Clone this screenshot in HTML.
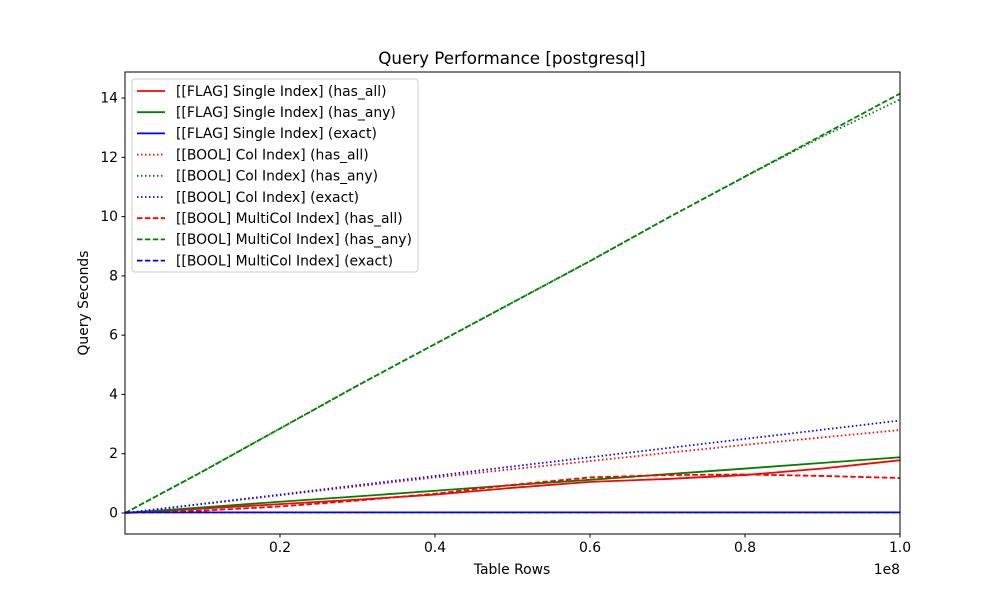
<!DOCTYPE html>
<html><head><meta charset="utf-8"><style>
body{margin:0;background:#fff;font-family:"DejaVu Sans","Liberation Sans",sans-serif}
svg text{font-family:"DejaVu Sans","Liberation Sans",sans-serif}
</style></head><body>
<svg id="chart" width="1000" height="600" xmlns="http://www.w3.org/2000/svg"></svg>
<script>
const xs=[0,0.1,0.2,0.3,0.4,0.5,0.6,0.7,0.8,0.9,1.0];
const flagAll=[0,0.15,0.3,0.45,0.62,0.85,1.05,1.15,1.28,1.5,1.78];
const flagAny=[0,0.19,0.38,0.56,0.75,0.94,1.12,1.31,1.5,1.69,1.88];
const flagExact=[0.02,0.02,0.02,0.02,0.02,0.02,0.02,0.02,0.02,0.02,0.02];
const colAll=[0,0.3,0.6,0.9,1.2,1.48,1.75,2.03,2.3,2.55,2.8];
const colAny=[0,1.4,2.85,4.3,5.7,7.1,8.5,9.95,11.35,12.7,13.95];
const colExact=[0,0.31,0.62,0.94,1.25,1.57,1.88,2.19,2.5,2.81,3.12];
const mcAll=[0,0.08,0.22,0.42,0.65,0.95,1.2,1.28,1.3,1.25,1.18];
const mcAny=[0,1.4,2.85,4.3,5.7,7.1,8.5,9.95,11.35,12.75,14.15];
const mcExact=[0.02,0.02,0.02,0.02,0.02,0.02,0.02,0.02,0.02,0.02,0.02];
const yTicks=[0,2,4,6,8,10,12,14];
const xTicks=[0.2,0.4,0.6,0.8,1.0];
const xTickLabels=["0.2","0.4","0.6","0.8","1.0"];
const series=[
 {n:"[[FLAG] Single Index] (has_all)",d:flagAll,c:"red",s:""},
 {n:"[[FLAG] Single Index] (has_any)",d:flagAny,c:"green",s:""},
 {n:"[[FLAG] Single Index] (exact)",d:flagExact,c:"blue",s:""},
 {n:"[[BOOL] Col Index] (has_all)",d:colAll,c:"red",s:"1.5,2.5"},
 {n:"[[BOOL] Col Index] (has_any)",d:colAny,c:"green",s:"1.5,2.5"},
 {n:"[[BOOL] Col Index] (exact)",d:colExact,c:"blue",s:"1.5,2.5"},
 {n:"[[BOOL] MultiCol Index] (has_all)",d:mcAll,c:"red",s:"5.5,2.4"},
 {n:"[[BOOL] MultiCol Index] (has_any)",d:mcAny,c:"green",s:"5.5,2.4"},
 {n:"[[BOOL] MultiCol Index] (exact)",d:mcExact,c:"blue",s:"5.5,2.4"}];
const L=125,R=900,T=72,B=534;
const X=v=>L+(v-0)/(1-0)*(R-L);
const Y=v=>513-v*29.64;
const svg=document.getElementById('chart');
const NS="http://www.w3.org/2000/svg";
function mk(t,a,txt){const e=document.createElementNS(NS,t);for(const k in a)e.setAttribute(k,a[k]);if(txt!=null)e.textContent=txt;svg.appendChild(e);return e;}
let e;
e=mk('text',{x:512,y:64,'text-anchor':'middle','font-size':16.7},'Query Performance [postgresql]');


const cp=mk('clipPath',{id:'cp'});const cr=document.createElementNS(NS,'rect');cr.setAttribute('x',L);cr.setAttribute('y',T);cr.setAttribute('width',R-L);cr.setAttribute('height',B-T);cp.appendChild(cr);
series.forEach((s,i)=>{
 e=mk('polyline',{points:xs.map((x,j)=>X(x)+','+Y(s.d[j])).join(' '),fill:'none',stroke:s.c,'stroke-width':1.8,'stroke-dasharray':s.s,'clip-path':'url(#cp)'});
 
 
});
e=mk('rect',{x:L,y:T,width:R-L,height:B-T,fill:'none',stroke:'#000','stroke-width':1});


yTicks.forEach(v=>{
 mk('line',{x1:L-3.5,x2:L,y1:Y(v),y2:Y(v),stroke:'#000'});
 e=mk('text',{x:L-7,y:Y(v)+4.5,'text-anchor':'end','font-size':13.9},String(v));
 
 
});
xTicks.forEach((v,i)=>{
 mk('line',{x1:X(v),x2:X(v),y1:B,y2:B+3.5,stroke:'#000'});
 e=mk('text',{x:X(v),y:B+18,'text-anchor':'middle','font-size':13.9},xTickLabels[i]);
 
 
});
e=mk('text',{x:900,y:574,'text-anchor':'end','font-size':13.9},'1e8');


e=mk('text',{x:512,y:574,'text-anchor':'middle','font-size':13.9},'Table Rows');


e=mk('text',{x:88,y:303,'text-anchor':'middle','font-size':13.9,transform:'rotate(-90 88 303)'},'Query Seconds');


e=mk('rect',{x:132,y:79,width:286,height:193,rx:3,fill:'#fff','fill-opacity':0.8,stroke:'#ccc'});


series.forEach((s,i)=>{
 const y=91+i*21.2;
 mk('line',{x1:137,x2:165,y1:y,y2:y,stroke:s.c,'stroke-width':1.8,'stroke-dasharray':s.s});
 e=mk('text',{x:176,y:y+4.8,'font-size':13.9},s.n);
 
 
});
</script>
</body></html>
